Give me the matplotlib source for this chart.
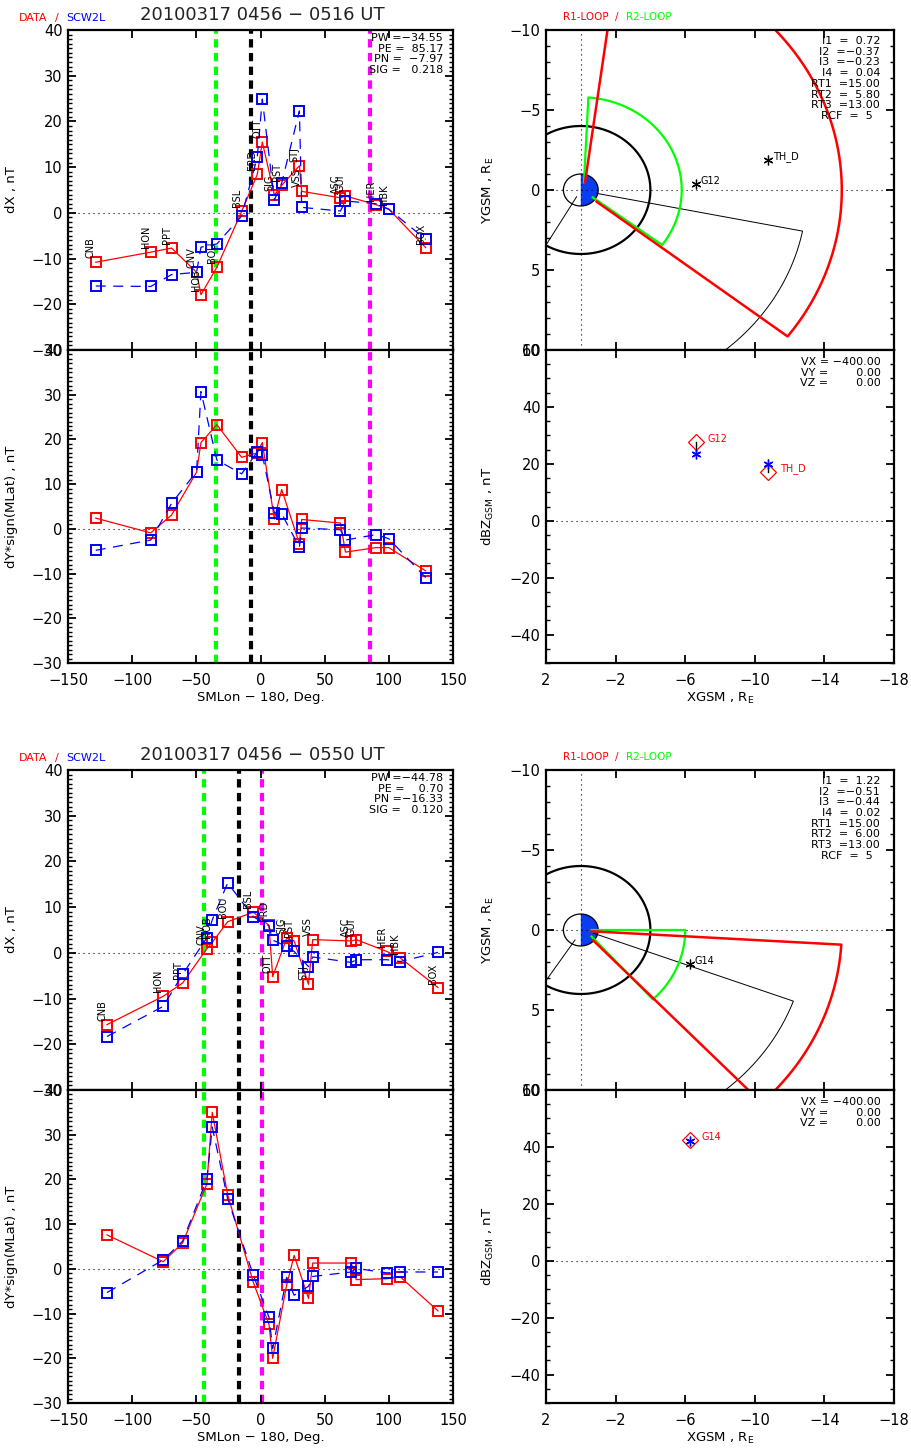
import numpy as np
import matplotlib
matplotlib.use("Agg")
import matplotlib.pyplot as plt
from matplotlib.ticker import MultipleLocator, FixedLocator

W, H = 911, 1453

# ---- interval 1: 0456 - 0516 UT ----
stations_1 = ["CNB", "HON", "PPT", "CNV", "HOB", "BOU", "BSL", "FRD", "OTT",
              "SJG", "PST", "STJ", "VSS", "ASC", "GUI", "HER", "HBK", "BOX"]
lon_1 = [-128.4, -85.5, -69.3, -49.8, -46.4, -34.0, -14.7, -2.5, 1.4,
         10.8, 16.5, 30.3, 32.1, 62.3, 66.2, 89.9, 100.0, 128.7]
dx_data_1 = [-10.8, -8.6, -7.7, -13.0, -17.9, -11.9, 0.3, 8.4, 15.5,
             3.9, 6.0, 10.3, 4.7, 3.3, 3.7, 1.8, 0.8, -7.6]
dx_model_1 = [-16.0, -16.1, -13.5, -13.0, -7.5, -6.8, -0.7, 12.2, 24.9,
              2.8, 6.5, 22.3, 1.2, 0.4, 2.6, 2.0, 0.8, -5.8]
dy_data_1 = [2.4, -0.9, 3.1, 12.7, 19.3, 23.3, 16.0, 17.0, 19.3,
             2.2, 8.8, -3.3, 2.1, 1.3, -5.2, -4.2, -4.2, -9.4]
dy_model_1 = [-4.8, -2.5, 5.7, 12.8, 30.7, 15.4, 12.3, 17.2, 16.6,
              3.6, 3.4, -4.1, 0.2, -0.2, -2.5, -1.3, -2.2, -10.9]
vlines_1 = [-34.7, -7.7, 85.5]
params_1 = ["PW =\u221234.55", "PE =  85.17", "PN =  \u22127.97", "SIG =   0.218"]
loop_text_1 = ["I1  =  0.72", "I2  =\u22120.37", "I3  =\u22120.23", "I4  =  0.04",
               "RT1  =15.00", "RT2  =  5.80", "RT3  =13.00", "RCF  =  5  "]
sat_1 = ["G12", "TH_D"]
sat_x_1 = [-6.61, -10.77]
sat_y_1 = [-0.35, -1.88]
dbz_data_1 = [27.5, 17.2]
dbz_model_1 = [23.4, 19.8]
# loops: foot A, radius, start angle, end angle, foot B
r1_1 = [(-0.24, -0.46), 15.0, 261.6, 142.4, (-0.91, 0.73)]
r2_1 = [(-0.18, -0.46), 5.8, 265.7, 143.7, (-0.68, 0.46)]
wedge_1 = [(0.24, 0.42), 13.0, 59.8, 168.6, (-0.91, 0.21)]

# ---- interval 2: 0456 - 0550 UT ----
stations_2 = stations_1
lon_2 = [-119.6, -75.8, -60.7, -41.8, -37.6, -25.6, -5.6, 6.6, 9.5,
         20.4, 26.2, 37.4, 40.7, 70.7, 74.6, 98.5, 108.9, 138.3]
dx_data_2 = [-15.7, -9.5, -6.6, 0.9, 2.3, 6.8, 8.9, 6.0, -5.2,
             3.2, 2.6, -6.9, 2.9, 2.6, 2.9, 0.3, -1.1, -7.6]
dx_model_2 = [-18.3, -11.7, -4.7, 3.3, 7.2, 15.3, 7.9, 5.9, 2.8,
              1.4, 0.3, -3.0, -0.9, -2.1, -1.5, -1.5, -1.9, 0.1]
dy_data_2 = [7.6, 1.6, 5.8, 19.0, 35.0, 16.6, -3.0, -12.4, -20.0,
             -3.6, 3.0, -6.6, 1.3, 1.3, -2.4, -2.2, -1.8, -9.4]
dy_model_2 = [-5.3, 2.0, 6.2, 20.0, 31.7, 15.7, -1.4, -10.8, -17.8,
              -1.9, -5.9, -3.9, -1.7, -0.7, 0.1, -0.9, -0.7, -0.7]
vlines_2 = [-44.1, -16.5, 1.2]
params_2 = ["PW =\u221244.78", "PE =    0.70", "PN =\u221216.33", "SIG =   0.120"]
loop_text_2 = ["I1  =  1.22", "I2  =\u22120.51", "I3  =\u22120.44", "I4  =  0.02",
               "RT1  =15.00", "RT2  =  6.00", "RT3  =13.00", "RCF  =  5  "]
sat_2 = ["G14"]
sat_x_2 = [-6.27]
sat_y_2 = [2.15]
dbz_data_2 = [42.3]
dbz_model_2 = [42.2]
r1_2 = [(-0.62, 0.08), 15.0, 176.5, 133.9, (-0.72, 0.66)]
r2_2 = [(-0.62, 0.0), 6.0, 180.0, 133.7, (-0.62, 0.41)]
wedge_2 = [(0.33, 0.62), 13.0, 57.0, 160.0, (-0.72, 0.20)]

titles = ["20100317 0456 \u2212 0516 UT", "20100317 0456 \u2212 0550 UT"]
vel_text = ["VX = \u2212400.00", "VY =        0.00", "VZ =        0.00"]

RED = "#ff0000"
BLUE = "#0000ff"
GREEN = "#00ff00"
MAG = "#ff00ff"
vcolors = [GREEN, "black", MAG]

fig = plt.figure(figsize=(W / 100, H / 100), dpi=100)
plt.rcParams["font.family"] = "DejaVu Sans"


def px_axes(left, top, right, bottom):
    return fig.add_axes([left / W, 1 - bottom / H, (right - left) / W, (bottom - top) / H])


def ftext(x, y, s, **kw):
    fig.text(x / W, 1 - y / H, s, **kw)


def style(ax):
    ax.tick_params(which="both", direction="in", top=True, right=True, labelsize=10.5)
    ax.tick_params(which="major", length=6, width=1.3, pad=4)
    ax.tick_params(which="minor", length=3, width=1.0)
    for s in ax.spines.values():
        s.set_linewidth(1.6)


def corner_text(ax, lines, dx, dy, step, size=8):
    for i, s in enumerate(lines):
        ax.annotate(s, xy=(1, 1), xycoords="axes fraction",
                    xytext=(-dx, -dy - i * step), textcoords="offset pixels",
                    ha="right", va="center", fontsize=size)


def loop(geom):
    fa, r, a0, a1, fb = geom
    th = np.radians(np.linspace(a0, a1, 200))
    xs = np.concatenate([[fa[0]], r * np.cos(th), [fb[0]]])
    ys = np.concatenate([[fa[1]], r * np.sin(th), [fb[1]]])
    return xs, ys


def draw_set(oy, stations, lon, dxd, dxm, dyd, dym, vl, params, ltext,
             sats, sx, sy, bzd, bzm, r1, r2, wedge, title):
    # --- left column ---
    a1 = px_axes(68, 30 + oy, 453, 350 + oy)
    a2 = px_axes(68, 350 + oy, 453, 663 + oy)
    for ax, d, m in [(a1, dxd, dxm), (a2, dyd, dym)]:
        for v, c in zip(vl, vcolors):
            ax.axvline(v, color=c, lw=3, dashes=(2, 1.3), zorder=1)
        ax.axhline(0, color="k", lw=0.8, ls=(0, (1, 3.5)), zorder=1)
        ax.plot(lon, d, color=RED, lw=0.9, marker="s", ms=6.5, mfc="none", mew=1.4, zorder=3)
        ax.plot(lon, m, color=BLUE, lw=0.9, dashes=(8, 6), marker="s", ms=6.5,
                mfc="none", mew=1.4, zorder=4)
        ax.set_xlim(-150, 150)
        ax.set_ylim(-30, 40)
        ax.xaxis.set_major_locator(MultipleLocator(50))
        ax.yaxis.set_major_locator(MultipleLocator(10))
        ax.yaxis.set_minor_locator(MultipleLocator(1))
        style(ax)
        ax.yaxis.set_label_coords(-0.13, 0.5)
    a1.tick_params(labelbottom=False)
    a1.set_ylabel("dX , nT", fontsize=9.5)
    a2.set_ylabel("dY*sign(MLat) , nT", fontsize=9.5)
    a2.set_xlabel("SMLon \u2212 180, Deg.", fontsize=9.5, labelpad=2)
    a2.tick_params(axis="x", pad=7)
    for name, x, y in zip(stations, lon, dxd):
        a1.annotate(name, xy=(x, y), xytext=(-5, 4), textcoords="offset pixels",
                    rotation=90, ha="center", va="bottom", fontsize=7, zorder=5)
    corner_text(a1, params, 10, 8, 10.7)

    # --- right column ---
    b1 = px_axes(546, 30 + oy, 894, 350 + oy)
    b2 = px_axes(546, 350 + oy, 894, 663 + oy)
    b1.axvline(0, color="k", lw=0.8, ls=(0, (1, 3.5)))
    b1.axhline(0, color="k", lw=0.8, ls=(0, (1, 3.5)))
    th = np.radians(np.linspace(0, 360, 361))
    b1.plot(4 * np.cos(th), 4 * np.sin(th), color="k", lw=1.6)
    half = np.radians(np.linspace(90, 270, 181))
    b1.fill(np.concatenate([[0], np.cos(half)]), np.concatenate([[1], np.sin(half)]),
            color="#0a3cf0", lw=0)
    b1.plot(np.cos(th), np.sin(th), color="k", lw=0.9)
    wx, wy = loop(wedge)
    b1.plot(wx, wy, color="k", lw=0.7)
    gx, gy = loop(r2)
    b1.plot(gx, gy, color=GREEN, lw=1.6)
    rx, ry = loop(r1)
    b1.plot(rx, ry, color=RED, lw=1.8)
    b1.plot(sx, sy, ls="none", marker=(6, 2, 0), ms=7, color="k", mew=0.9)
    for name, x, y in zip(sats, sx, sy):
        b1.annotate(name, xy=(x, y), xytext=(5, 3), textcoords="offset pixels",
                    ha="left", va="center", fontsize=7)
    b1.set_xlim(2, -18)
    b1.set_ylim(10, -10)
    b1.yaxis.set_major_locator(FixedLocator([-10, -5, 0, 5, 10]))
    b1.yaxis.set_minor_locator(MultipleLocator(1))
    corner_text(b1, ltext, 14, 11, 10.7)

    b2.axhline(0, color="k", lw=0.8, ls=(0, (1, 3.5)))
    for x, d, m in zip(sx, bzd, bzm):
        b2.plot([x, x], [d, m], color="k", lw=1.0)
    b2.plot(sx, bzd, ls="none", marker="D", ms=8.5, mfc="none", mec=RED, mew=0.9)
    b2.plot(sx, bzm, ls="none", marker=(6, 2, 0), ms=7, color=BLUE, mew=1.0)
    for name, x, y in zip(sats, sx, bzd):
        b2.annotate(name, xy=(x, y), xytext=(12, 3), textcoords="offset pixels",
                    ha="left", va="center", fontsize=7, color=RED)
    b2.set_xlim(2, -18)
    b2.set_ylim(-50, 60)
    b2.yaxis.set_major_locator(MultipleLocator(20))
    b2.yaxis.set_minor_locator(MultipleLocator(5))
    corner_text(b2, vel_text, 13, 12, 10.7)
    for ax in (b1, b2):
        ax.xaxis.set_major_locator(FixedLocator([2, -2, -6, -10, -14, -18]))
        style(ax)
        ax.yaxis.set_label_coords(-0.145, 0.5)
    b1.tick_params(labelbottom=False)
    b1.set_ylabel("YGSM , R$_\\mathrm{E}$", fontsize=9.5)
    b2.set_ylabel("dBZ$_\\mathrm{GSM}$ , nT", fontsize=9.5)
    b2.set_xlabel("XGSM , R$_\\mathrm{E}$", fontsize=9.5, labelpad=2)
    b2.tick_params(axis="x", pad=7)

    # --- headers ---
    ftext(19, 18 + oy, "DATA", color=RED, fontsize=8, va="center")
    ftext(55, 18 + oy, "/", color=RED, fontsize=8, va="center")
    ftext(66, 18 + oy, "SCW2L", color=BLUE, fontsize=8, va="center")
    ftext(262, 15 + oy, title, fontsize=13, ha="center", va="center", color="#222222")
    ftext(563, 17 + oy, "R1-LOOP", color=RED, fontsize=7.5, va="center")
    ftext(615, 17 + oy, "/", color=RED, fontsize=7.5, va="center")
    ftext(626, 17 + oy, "R2-LOOP", color=GREEN, fontsize=7.5, va="center")


draw_set(0, stations_1, lon_1, dx_data_1, dx_model_1, dy_data_1, dy_model_1,
         vlines_1, params_1, loop_text_1, sat_1, sat_x_1, sat_y_1,
         dbz_data_1, dbz_model_1, r1_1, r2_1, wedge_1, titles[0])
draw_set(740, stations_2, lon_2, dx_data_2, dx_model_2, dy_data_2, dy_model_2,
         vlines_2, params_2, loop_text_2, sat_2, sat_x_2, sat_y_2,
         dbz_data_2, dbz_model_2, r1_2, r2_2, wedge_2, titles[1])

fig.savefig("out.png", dpi=100)
